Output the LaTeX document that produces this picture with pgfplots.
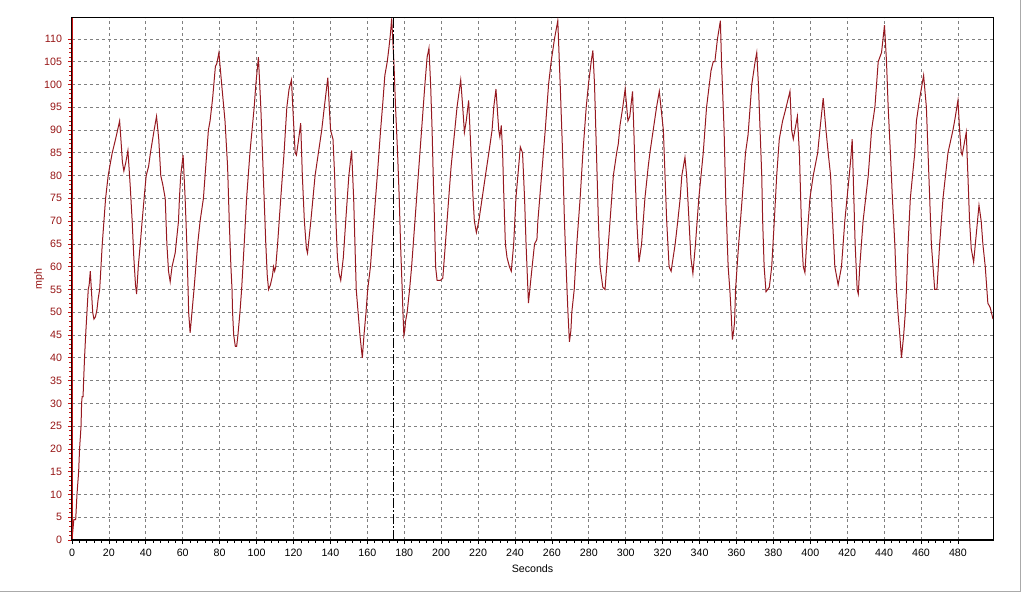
\documentclass[border=0pt]{standalone}
\usepackage{fontspec}
\setmainfont{Liberation Sans}
\usepackage{pgfplots}
\pgfplotsset{compat=1.18}
\definecolor{curve}{RGB}{150,25,32}
\definecolor{yaxred}{RGB}{200,20,20}
\definecolor{ylab}{RGB}{150,20,20}
\definecolor{gridgray}{RGB}{128,128,128}
\definecolor{frame}{RGB}{170,170,170}
\begin{document}
\begin{tikzpicture}
\useasboundingbox (-54pt,-40.5pt) rectangle (714pt,405pt);
\begin{axis}[
  at={(0,0)}, anchor=south west,
  scale only axis, width=690.75pt, height=391.5pt,
  xmin=0, xmax=499, ymin=0, ymax=114.6,
  xtick={0,20,...,480}, ytick={0,5,...,110},
  minor x tick num=4, minor y tick num=4,
  tick align=outside, xtick pos=bottom, ytick pos=left,
  major tick length=3pt, minor tick length=2pt,
  x tick style={black, line width=0.5pt},
  y tick style={yaxred, line width=0.5pt},
  grid=major,
  major grid style={gridgray, line width=0.6pt, dash pattern=on 2.25pt off 2.25pt},
  axis line style={black, line width=0.75pt},
  tick label style={font=\fontsize{8}{9.6}\selectfont},
  /pgf/number format/assume math mode=true,
  yticklabel style={color=ylab, xshift=-1pt},
  xticklabel style={black},
  every axis x label/.style={at={(axis description cs:0.5,0)}, yshift=-21.75pt, anchor=center, font=\fontsize{8}{9.6}\selectfont},
  every axis y label/.style={at={(axis description cs:0,0.5)}, xshift=-24.75pt, rotate=90, anchor=center, font=\fontsize{8}{9.6}\selectfont, color=ylab},
  xlabel={Seconds}, ylabel={mph},
  clip=true,
]
\addplot[curve, line width=0.75pt] table {
x y
0 0
1 4.5
2 4.5
2.7 10
3.6 15
4.1 20
4.9 25
5.2 30
5.5 31.5
6 31.5
6.3 35
6.8 40
7.4 45
8.1 50
8.8 55
9.3 56
9.9 59
10.5 55
11.2 50
11.9 48.5
12.7 49
13.5 50.5
14.2 53
15 55
16.4 65
17.3 70
18.2 75
19.6 80
20.9 83
21.8 85
23.6 88
25.8 92
26.5 88
27.3 83
28.1 81
29.2 83
30.3 85.5
31.5 78
32.6 70
33.5 62
34.4 56
35 54
35.9 60
37 65
38 70
39.5 77
40.2 80
41.5 82
42.5 85
44.5 90
45.8 93
47 88
48.1 80
49.2 78
50.5 75
51.4 65
52.3 59
53.2 56.7
54.2 60
55.9 63
57.7 70
58.2 75
58.9 80
60.2 84.5
61.3 75
62.2 65
62.9 55
63.2 50
64 45.5
65 50
66.1 55
68.1 65
69.4 70
71.2 75
72.1 80
73 85
73.9 90
74.8 92
76.2 97
77.7 104
78.4 104.5
79.6 107
81.1 100
82.9 92
84.3 82
85.2 70
86.1 60
86.7 55
87 50
87.6 45
88.5 42.5
89.2 42.5
89.9 45
91 50
91.9 55
93.3 65
94.6 75
96.4 85
98.7 95
99.6 100
101 106
102.3 95
103.2 85
104.1 75
105 65
105.8 58
106.5 55
107.5 56
108.6 58
109.2 60
109.8 59
110.4 60
111.4 65
113.1 75
114.9 85
116.4 95
117.6 99
118.9 101
120 92
120.9 85
121.6 84.5
122.8 88
123.9 91.5
124.8 80
125.9 70
127 64
127.6 63
129.4 70
131.7 80
133.5 85
135.3 90
136.7 95
138.6 101.5
139.4 95
140.1 90
141.4 88
142.3 80
143 70
143.8 62
144.7 58.5
145.6 57
147 62
148.3 70
150 80
151.5 85.5
152.6 75
153.3 65
154 55
155 50
156 45
157.3 40
158.2 45
159.3 50
160.2 55
161.7 60
163.5 70
165.4 80
167.2 90
168.4 96
169.5 102
170.8 105
171.7 108
172.5 111
173.2 114.5
174.4 105
175.3 95
176.4 85
177.3 75
178 65
178.9 55
179.3 50
179.8 45
180.3 46
180.7 48
181.6 50
182.9 55
184 60
185.8 70
187.6 80
189.4 90
191.2 100
192.4 106
193.4 108
194.3 100
195.1 90
195.7 80
196.4 70
197 60
197.8 57
199.6 57
200.9 57.5
202.3 65
204.1 75
205.4 82
207.4 90
208.6 95
210.6 101
211.7 95
212.6 89.5
213.6 92
214.9 96.5
216.2 85
217.3 75
218 70
219.1 67.5
220.4 70
222.2 75
224 80
226.2 86
227.6 90
228.5 95
229.7 99
231.2 90
231.8 88.5
232.6 91
233.3 85
234 75
234.8 65
235.7 62
237 60
238 59
239.3 65
240.5 75
242 82
242.9 86.3
244.1 85
245.2 75
246 65
246.8 57
247.3 52
248.3 56
249.3 60
250.6 65
251.9 66
252.4 70
254.4 80
256.4 90
258.2 100
259.6 105
261.4 110
263.2 114
264.5 100
265.8 85
266.8 70
267.9 58
268.7 50
269.5 43.5
270.3 46
270.8 50
272.1 55
273.5 65
275.3 75
276.8 85
278.6 95
279.8 100
281.3 105
282.2 107.5
283.1 100
283.8 90
284.5 80
285.2 70
286.1 60
287.6 55.5
288.8 55
289.7 60
291.5 70
293.3 80
295.1 85
296 87
296.9 91
298.4 95
299.7 99
301.2 92
302.2 93
303.7 98.5
304.4 90
305.1 80
306 70
307.2 61
308.6 65
310.4 75
312.2 82
313.1 85
314.9 90
316.7 95
318.2 98.5
319.1 95
320.4 90
321.3 80
322.2 70
323.5 60
324.6 59
326.8 65
328.2 70
329.5 75
330.4 80
332.1 84
333 80
334.3 70
335.3 62
336.4 58.5
337.8 65
339.6 75
342 85
343.8 95
346.2 103
347.4 105
348.3 105
349.7 110
351.3 114
351.9 105
353.3 90
354.2 75
355.5 60
356.4 55
357.1 50
357.8 44
358.5 46
359 48
359.5 55
361.2 65
363.1 75
364.9 85
366.3 89
368.3 100
370.1 105
371 107
371.9 100
372.8 90
373.7 80
374.2 70
375 60
376 54.5
377.8 55.5
379.1 60
380.5 70
381.8 80
383.2 88
385 92
386.3 94
389 98.5
389.9 90
390.8 88
393 93
394.1 85
394.8 75
395.5 65
396.2 60
397.1 58.7
398 65
399.8 75
401.6 80
404 85
405.2 90
407 97
408.5 90
409.7 85
411 80
412.1 70
413.3 60
415.1 56
416.9 60
418.7 70
421.1 80
422 84
422.7 88
423.6 75
424.3 65
425.4 55
426 54
426.8 60
428.6 70
431.4 80
433.2 90
435 95
436.8 105
438.6 107
440.2 113
441.3 105
442.2 95
443.4 85
444.5 75
445.8 65
446.7 55
447.5 50
448.5 45
449.4 40
450.6 45
451.5 50
452.1 55
453 65
454.2 75
456.6 85
457.5 92
459.3 97
461.4 102
462.9 95
463.8 85
464.7 75
465.6 65
467.4 55
468.6 55
470.1 65
471.9 75
474.6 85
477.3 90
478.2 92
480 96.5
480.9 90
481.8 85
482.3 84.5
484.5 89.5
485.4 80
486.3 70
487.2 64
488.5 61
491.4 73.5
492.6 70
493.5 65
494.8 60
496.2 52
497.5 51
499 48.5
};
\draw[black, line width=0.6pt, dash pattern=on 7.5pt off 1.5pt on 1.5pt off 1.5pt] (axis cs:174,0) -- (axis cs:174,114.6);
\draw[yaxred, line width=1.6pt] (rel axis cs:0,0) -- (rel axis cs:0,1);
\draw[black, line width=1.5pt] (rel axis cs:0,0) -- (rel axis cs:1,0);
\end{axis}
\draw[frame, line width=1pt] (-54pt,-38.5pt) -- (711.5pt,-38.5pt) -- (711.5pt,405pt);
\end{tikzpicture}
\end{document}
